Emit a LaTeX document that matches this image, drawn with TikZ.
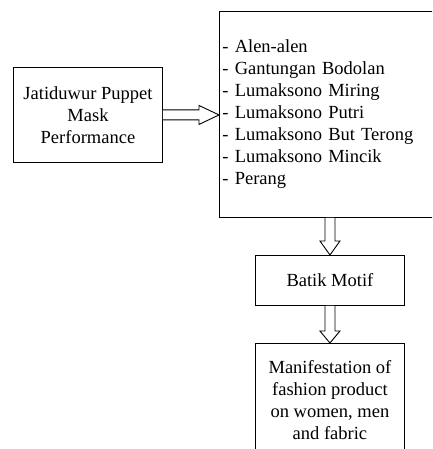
\documentclass[tikz,border=0pt]{standalone}
\usepackage{fontspec}
\setmainfont{Liberation Serif}
\usetikzlibrary{calc}
\begin{document}
\begin{tikzpicture}[x=1pt,y=1pt,
  box/.style={draw=black,line width=0.9pt,rectangle,inner sep=0pt,align=center,
    font=\fontsize{18.5}{22}\selectfont},
  blockarrow/.style={draw=black,line width=0.9pt,fill=white,line join=miter}]
\useasboundingbox (0,0) rectangle (432,-449);
\clip (0,0) rectangle (432,-449);
\node[box,minimum width=149,minimum height=95,anchor=north west] (src) at (13,-67)
  {Jatiduwur Puppet\\Mask\\Performance};
\node[box,minimum width=226,minimum height=206,anchor=north west,align=left,
  text width=220,inner xsep=3pt] (list) at (219,-11)
  {- Alen-alen\\- Gantungan Bodolan\\- Lumaksono Miring\\- Lumaksono Putri\\- Lumaksono But Terong\\- Lumaksono Mincik\\- Perang};
\node[box,minimum width=149,minimum height=50,anchor=north west] (batik) at (255,-255)
  {Batik Motif};
\node[box,minimum width=149,minimum height=114,anchor=north west] (manif) at (255,-343)
  {Manifestation of\\fashion product\\on women, men\\and fabric};
% horizontal block arrow
\draw[blockarrow] let \p1=(src.east), \p2=(list.west) in
  (\x1,\y1+5) -- (\x2-20,\y1+5) -- (\x2-20,\y1+9.5) -- (\x2,\y1) --
  (\x2-20,\y1-9.5) -- (\x2-20,\y1-5) -- (\x1,\y1-5);
% vertical block arrows
\draw[blockarrow] let \p1=(list.south), \p2=(batik.north) in
  (\x2-5,\y1) -- (\x2-5,\y2+14) -- (\x2-10,\y2+14) -- (\x2,\y2) --
  (\x2+10,\y2+14) -- (\x2+5,\y2+14) -- (\x2+5,\y1);
\draw[blockarrow] let \p1=(batik.south), \p2=(manif.north) in
  (\x2-5,\y1) -- (\x2-5,\y2+12) -- (\x2-10,\y2+12) -- (\x2,\y2) --
  (\x2+10,\y2+12) -- (\x2+5,\y2+12) -- (\x2+5,\y1);
\end{tikzpicture}
\end{document}
